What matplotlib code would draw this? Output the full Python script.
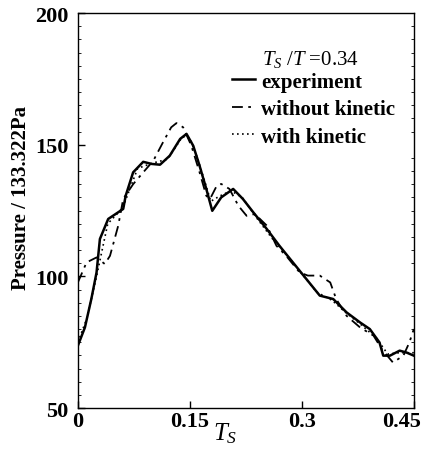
import matplotlib
matplotlib.use("Agg")
import matplotlib.pyplot as plt
import matplotlib.transforms as mtransforms
import numpy as np
from matplotlib.ticker import MultipleLocator

plt.rcParams['font.family'] = ['Liberation Serif', 'DejaVu Serif']
plt.rcParams['mathtext.fontset'] = 'custom'
plt.rcParams['mathtext.rm'] = 'Liberation Serif'
plt.rcParams['mathtext.it'] = 'Liberation Serif:italic'
plt.rcParams['mathtext.bf'] = 'Liberation Serif:bold'

# experiment (solid)
exp_x = [0.0, 0.0094, 0.018, 0.025, 0.0295, 0.0406, 0.0607, 0.064, 0.074, 0.0875,
         0.0987, 0.11, 0.123, 0.137, 0.1455, 0.1545, 0.163, 0.172, 0.18, 0.192,
         0.208, 0.221, 0.235, 0.253, 0.27, 0.288, 0.306, 0.324, 0.342, 0.36,
         0.378, 0.391, 0.404, 0.409, 0.418, 0.431, 0.44, 0.45]
exp_y = [73.7, 80.6, 91.4, 101.5, 114.2, 121.8, 125.6, 130.6, 139.5, 143.5,
         142.7, 142.4, 145.8, 152.2, 154.1, 149.6, 142.0, 133.2, 124.9, 130.0,
         133.2, 129.4, 124.3, 118.0, 111.6, 105.3, 99.0, 92.7, 91.4, 86.3,
         82.5, 80.0, 74.9, 69.9, 69.9, 71.8, 71.1, 69.9]

# without kinetic (dash-dot)
wo_x = [0.0, 0.0116, 0.025, 0.036, 0.043, 0.054, 0.0607, 0.074, 0.0875, 0.101,
        0.114, 0.125, 0.132, 0.141, 0.152, 0.163, 0.172, 0.177, 0.186, 0.192,
        0.203, 0.215, 0.226, 0.237, 0.253, 0.266, 0.279, 0.297, 0.308, 0.324,
        0.338, 0.346, 0.36, 0.378, 0.396, 0.407, 0.422, 0.436, 0.444, 0.45]
wo_y = [97.7, 105.3, 107.2, 104.7, 107.8, 119.2, 129.4, 135.0, 139.5, 143.9,
        150.9, 156.6, 158.2, 156.6, 149.6, 139.5, 130.6, 129.4, 134.4, 135.1,
        133.2, 126.8, 123.0, 123.7, 119.3, 111.6, 107.8, 101.5, 100.3, 100.3,
        97.7, 91.4, 85.0, 80.6, 77.5, 72.4, 67.3, 69.9, 74.9, 80.0]

# with kinetic (dotted)
wk_x = [0.0, 0.012, 0.025, 0.04, 0.06, 0.08, 0.1, 0.12, 0.14, 0.15, 0.16,
        0.17, 0.178, 0.19, 0.205, 0.22, 0.24, 0.26, 0.28, 0.3, 0.32, 0.34,
        0.36, 0.38, 0.4, 0.415, 0.43, 0.45]
wk_y = [75.0, 84.0, 100.0, 120.0, 126.0, 141.0, 143.0, 144.5, 153.0, 152.5, 145.0,
        136.0, 128.5, 130.5, 132.5, 130.0, 122.0, 114.5, 108.0, 101.0, 94.0, 91.0,
        86.0, 81.5, 76.5, 70.5, 71.0, 71.0]

x_ticks = [0, 0.15, 0.3, 0.45]
x_ticklabels = ['0', '0.15', '0.3', '0.45']
y_ticks = [50, 100, 150, 200]

fig = plt.figure(figsize=(4.21, 4.52), dpi=100)
ax = fig.add_axes([0.185, 0.095, 0.798, 0.874])

ax.plot(exp_x, exp_y, color='black', lw=1.8, ls='-', label='experiment')
ax.plot(wo_x, wo_y, color='black', lw=1.3, ls=(0, (6, 3, 1.5, 3)), label='without kinetic')
ax.plot(wk_x, wk_y, color='black', lw=1.2, ls=(0, (1, 2)), label='with kinetic')

ax.set_xlim(0, 0.45)
ax.set_ylim(50, 200)
ax.set_xticks(x_ticks)
ax.set_xticklabels(x_ticklabels)
ax.set_yticks(y_ticks)
ax.yaxis.set_minor_locator(MultipleLocator(5))
ax.tick_params(which='major', direction='in', length=5, width=1.0, labelsize=16)
ax.tick_params(axis='x', which='major', pad=2)
ax.tick_params(axis='y', which='major', pad=7, right=False)
ax.tick_params(which='minor', left=True, right=True, direction='in', length=2, width=0.6)
for lab in ax.get_xticklabels() + ax.get_yticklabels():
    lab.set_fontweight('bold')
last = ax.get_xticklabels()[-1]
last.set_transform(last.get_transform() + mtransforms.ScaledTranslation(-12/100, 0, fig.dpi_scale_trans))
for s in ax.spines.values():
    s.set_linewidth(1.0)

ax.set_ylabel('Pressure / 133.322Pa', fontsize=15, fontweight='bold')
ax.yaxis.set_label_coords(-0.14, 0.534)
ax.set_xlabel(r'$T_S$', fontsize=18)
ax.xaxis.set_label_coords(0.4375, -0.032)

ax.text(0.548, 0.884, r'$T_S\ /T\ $=0.34', transform=ax.transAxes, fontsize=15,
        ha='left', va='center')
leg = ax.legend(loc='upper left', bbox_to_anchor=(0.428, 0.878), frameon=False,
                handlelength=1.1, handletextpad=0.3,
                labelspacing=0.36, prop={'weight': 'bold', 'size': 15},
                borderpad=0.0)

fig.savefig('out.png', dpi=100)
